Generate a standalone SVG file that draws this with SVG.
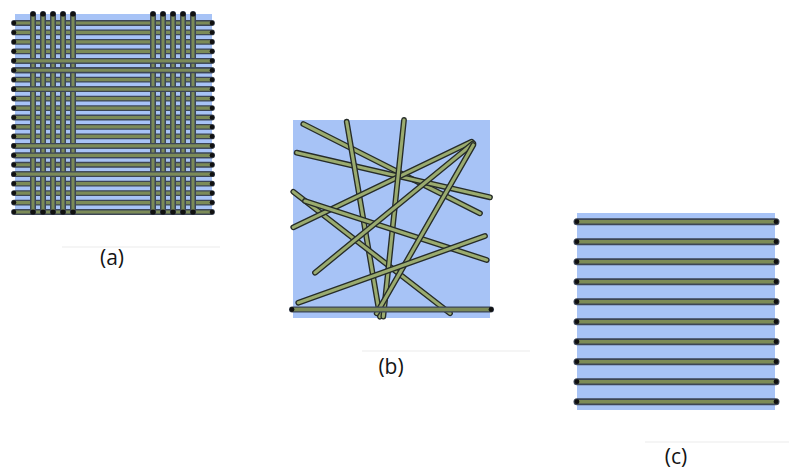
<svg xmlns="http://www.w3.org/2000/svg" xmlns:xlink="http://www.w3.org/1999/xlink" width="789" height="471" viewBox="0 0 789 471">
  <style>
    .bg { fill: #a7c3f6; }
    .edge { stroke: #3d4656; stroke-linecap: round; fill: none; }
    .core { stroke: #7c8b58; stroke-linecap: round; fill: none; }
    .rod-edge { stroke: #262c28; stroke-width: 5.8; stroke-linecap: round; fill: none; }
    .rod-core { stroke: #9aab6f; stroke-width: 3.1; stroke-linecap: round; fill: none; }
    .dot { fill: #111; }
    .label { font-family: "Open Sans", "Liberation Sans", sans-serif; font-size: 21px; fill: #141414; text-anchor: middle; }
    .rule { stroke: #f2f2f2; stroke-width: 1.5; }
  </style>
  <defs>
    <!-- woven mat: one weft row and one warp column -->
    <g id="weft">
      <line class="edge" x1="14" y1="0" x2="212" y2="0" stroke-width="5.8"/>
      <line class="core" x1="14" y1="0" x2="212" y2="0" stroke-width="3.2"/>
      <circle class="dot" cx="14" cy="0" r="2.3"/>
      <circle class="dot" cx="212" cy="0" r="2.3"/>
    </g>
    <g id="warp">
      <line class="edge" x1="0" y1="14" x2="0" y2="212" stroke-width="6"/>
      <line class="core" x1="0" y1="14" x2="0" y2="212" stroke-width="3"/>
      <circle class="dot" cx="0" cy="14" r="2.6"/>
      <circle class="dot" cx="0" cy="212" r="2.6"/>
    </g>
    <!-- unidirectional mat: one fibre -->
    <g id="uni">
      <line class="edge" x1="577" y1="0" x2="776" y2="0" stroke-width="7" stroke="#4a5870"/>
      <line class="core" x1="577" y1="0" x2="776" y2="0" stroke-width="3.6" stroke="#6f7e53"/>
      <circle class="dot" cx="577" cy="0" r="2.4"/>
      <circle class="dot" cx="776" cy="0" r="2.4"/>
    </g>
    <!-- short fibres of the random mat -->
    <line id="r1" x1="303.3" y1="124" x2="480" y2="213.3"/>
    <line id="r2" x1="296.7" y1="152.7" x2="490" y2="197.3"/>
    <line id="r3" x1="293.3" y1="191.7" x2="450" y2="313.3"/>
    <line id="r4" x1="293.3" y1="227.3" x2="471.7" y2="141.7"/>
    <line id="r5" x1="315" y1="272.7" x2="473.3" y2="143.3"/>
    <line id="r6" x1="346.7" y1="121.7" x2="380" y2="316.7"/>
    <line id="r7" x1="404" y1="120" x2="383.3" y2="316.7"/>
    <line id="r8" x1="473.3" y1="145" x2="376.7" y2="313.3"/>
    <line id="r9" x1="298.3" y1="302.7" x2="485" y2="236"/>
    <line id="r10" x1="305" y1="201" x2="486.7" y2="260"/>
  </defs>

  <!-- (a) woven fabric -->
  <g id="woven">
    <rect class="bg" x="15" y="14" width="197" height="201"/>
    <use xlink:href="#weft" y="23"/>
    <use xlink:href="#weft" y="32.45"/>
    <use xlink:href="#weft" y="41.9"/>
    <use xlink:href="#weft" y="51.35"/>
    <use xlink:href="#weft" y="60.8"/>
    <use xlink:href="#weft" y="70.25"/>
    <use xlink:href="#weft" y="79.7"/>
    <use xlink:href="#weft" y="89.15"/>
    <use xlink:href="#weft" y="98.6"/>
    <use xlink:href="#weft" y="108.05"/>
    <use xlink:href="#weft" y="117.5"/>
    <use xlink:href="#weft" y="126.95"/>
    <use xlink:href="#weft" y="136.4"/>
    <use xlink:href="#weft" y="145.85"/>
    <use xlink:href="#weft" y="155.3"/>
    <use xlink:href="#weft" y="164.75"/>
    <use xlink:href="#weft" y="174.2"/>
    <use xlink:href="#weft" y="183.65"/>
    <use xlink:href="#weft" y="193.1"/>
    <use xlink:href="#weft" y="202.55"/>
    <use xlink:href="#weft" y="212"/>
    <use xlink:href="#warp" x="33"/>
    <use xlink:href="#warp" x="43"/>
    <use xlink:href="#warp" x="53"/>
    <use xlink:href="#warp" x="63"/>
    <use xlink:href="#warp" x="73"/>
    <use xlink:href="#warp" x="153"/>
    <use xlink:href="#warp" x="163"/>
    <use xlink:href="#warp" x="173"/>
    <use xlink:href="#warp" x="183"/>
    <use xlink:href="#warp" x="193"/>
    <!-- weft rows passing over the warp -->
    <use xlink:href="#weft" y="60.8"/>
    <use xlink:href="#weft" y="70.25"/>
    <use xlink:href="#weft" y="89.15"/>
    <use xlink:href="#weft" y="145.85"/>
    <use xlink:href="#weft" y="155.3"/>
    <use xlink:href="#weft" y="174.2"/>
  </g>

  <!-- (b) random short fibres -->
  <g id="random">
    <rect class="bg" x="293" y="120" width="197" height="198"/>
    <use xlink:href="#r1" class="rod-edge"/><use xlink:href="#r1" class="rod-core"/>
    <use xlink:href="#r2" class="rod-edge"/><use xlink:href="#r2" class="rod-core"/>
    <use xlink:href="#r6" class="rod-edge"/><use xlink:href="#r6" class="rod-core"/>
    <use xlink:href="#r3" class="rod-edge"/><use xlink:href="#r3" class="rod-core"/>
    <use xlink:href="#r4" class="rod-edge"/><use xlink:href="#r4" class="rod-core"/>
    <use xlink:href="#r7" class="rod-edge"/><use xlink:href="#r7" class="rod-core"/>
    <use xlink:href="#r10" class="rod-edge"/><use xlink:href="#r10" class="rod-core"/>
    <use xlink:href="#r5" class="rod-edge"/><use xlink:href="#r5" class="rod-core"/>
    <use xlink:href="#r8" class="rod-edge"/><use xlink:href="#r8" class="rod-core"/>
    <use xlink:href="#r9" class="rod-edge"/><use xlink:href="#r9" class="rod-core"/>
    <line class="edge" x1="292" y1="309.5" x2="491" y2="309.5" stroke-width="6" stroke="#4b5548"/>
    <line class="core" x1="292" y1="309.5" x2="491" y2="309.5" stroke-width="3.5" stroke="#6f7e53"/>
    <circle class="dot" cx="292" cy="309.5" r="2.4"/>
    <circle class="dot" cx="491" cy="309.5" r="2.4"/>
  </g>

  <!-- (c) unidirectional fibres -->
  <g id="unidirectional">
    <rect class="bg" x="577" y="213" width="198" height="197"/>
    <use xlink:href="#uni" y="221.7"/>
    <use xlink:href="#uni" y="241.7"/>
    <use xlink:href="#uni" y="261.7"/>
    <use xlink:href="#uni" y="281.7"/>
    <use xlink:href="#uni" y="301.7"/>
    <use xlink:href="#uni" y="321.7"/>
    <use xlink:href="#uni" y="341.7"/>
    <use xlink:href="#uni" y="361.7"/>
    <use xlink:href="#uni" y="381.7"/>
    <use xlink:href="#uni" y="401.7"/>
  </g>

  <!-- captions -->
  <g id="caption-a">
    <line class="rule" x1="62" y1="247" x2="220" y2="247"/>
    <text class="label" x="112" y="265">(a)</text>
  </g>
  <g id="caption-b">
    <line class="rule" x1="362" y1="351" x2="530" y2="351"/>
    <text class="label" x="391" y="374">(b)</text>
  </g>
  <g id="caption-c">
    <line class="rule" x1="645" y1="442" x2="789" y2="442"/>
    <text class="label" x="676" y="464">(c)</text>
  </g>
</svg>
